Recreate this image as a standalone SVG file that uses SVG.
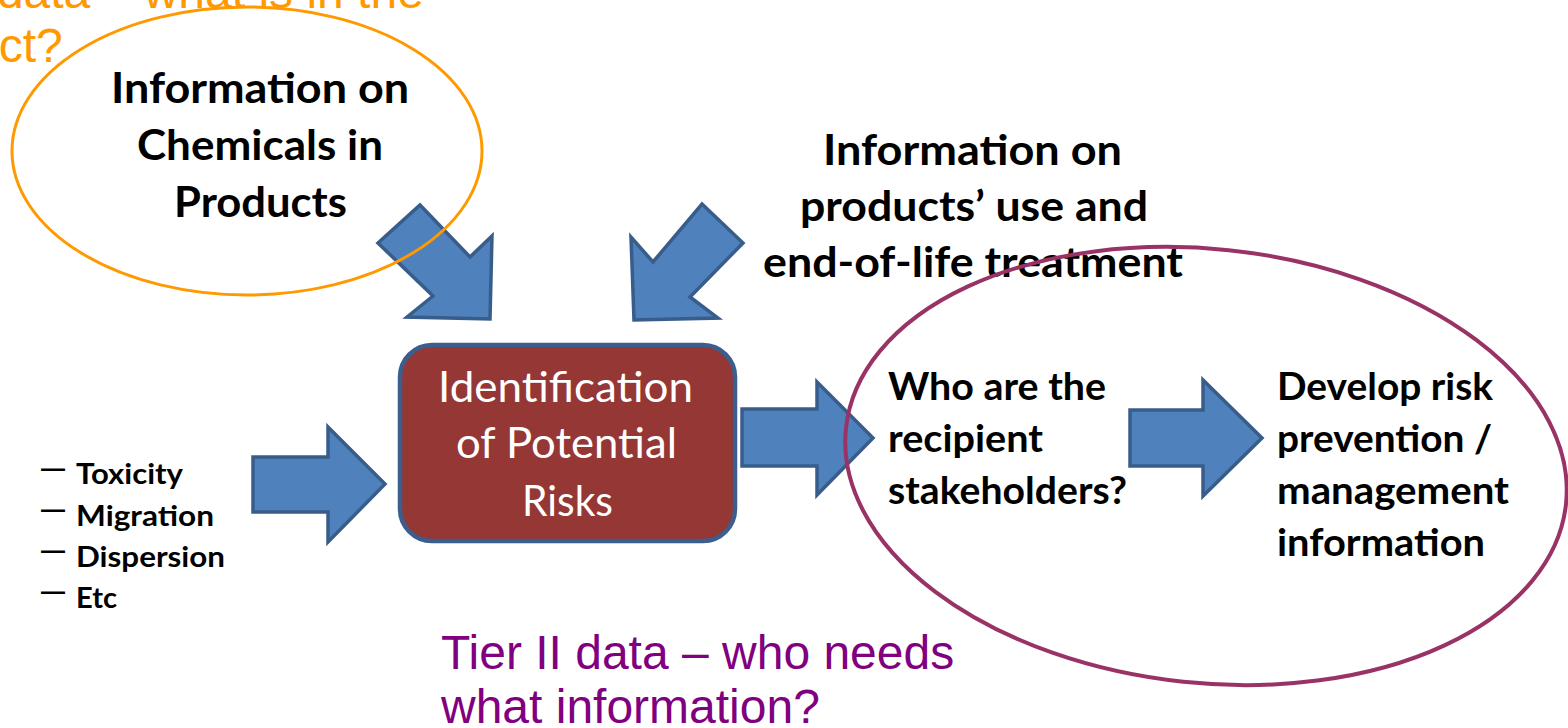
<svg xmlns="http://www.w3.org/2000/svg" width="1568" height="728" viewBox="0 0 1568 728">
<style>
.bg{fill:#ffffff}
.arrow{fill:#4F81BD;stroke:#385D8A;stroke-width:3.5;stroke-linejoin:miter}
.bold{font-family:Lato,"Liberation Sans",sans-serif;font-weight:bold;fill:#000000}
.big{font-size:42.5px}
.mid{font-size:38.5px}
.small{font-size:29px}
.boxtxt{font-family:Lato,"Liberation Sans",sans-serif;font-size:43px;fill:#ffffff}
.arial{font-family:"Liberation Sans",Arial,sans-serif;font-size:48px}
.dash{font-family:"Liberation Sans",Arial,sans-serif;font-size:24px;font-weight:bold;fill:#000000}
</style>
<rect class="bg" x="0" y="0" width="1568" height="728"/>

<g id="tier1-label">
  <text class="arial" fill="#FF9900" x="-124" y="8">Tier I data – what is in the</text>
  <text class="arial" fill="#FF9900" x="-124" y="62">product?</text>
</g>

<g id="chemicals-info">
  <text class="bold big" text-anchor="middle" x="260" y="103" textLength="298" lengthAdjust="spacingAndGlyphs">Information on</text>
  <text class="bold big" text-anchor="middle" x="260" y="160" textLength="246" lengthAdjust="spacingAndGlyphs">Chemicals in</text>
  <text class="bold big" text-anchor="middle" x="260.5" y="217" textLength="173" lengthAdjust="spacingAndGlyphs">Products</text>
</g>

<g id="use-info">
  <text class="bold big" text-anchor="middle" x="972.5" y="165" textLength="299" lengthAdjust="spacingAndGlyphs">Information on</text>
  <text class="bold big" text-anchor="middle" x="974" y="221" textLength="348" lengthAdjust="spacingAndGlyphs">products’ use and</text>
  <text class="bold big" text-anchor="middle" x="973" y="277" textLength="420" lengthAdjust="spacingAndGlyphs">end-of-life treatment</text>
</g>

<g id="properties-list">
  <text class="dash" x="41" y="476">—</text>
  <text class="bold small" x="76" y="484" textLength="107" lengthAdjust="spacingAndGlyphs">Toxicity</text>
  <text class="dash" x="41" y="517">—</text>
  <text class="bold small" x="76" y="526" textLength="138" lengthAdjust="spacingAndGlyphs">Migration</text>
  <text class="dash" x="41" y="558">—</text>
  <text class="bold small" x="76" y="567" textLength="149" lengthAdjust="spacingAndGlyphs">Dispersion</text>
  <text class="dash" x="41" y="599">—</text>
  <text class="bold small" x="76" y="608" textLength="41" lengthAdjust="spacingAndGlyphs">Etc</text>
</g>

<g id="connectors">
  <polygon class="arrow" points="420,205 470,257 492,236 490,319 407,317 433,296 378,243"/>
  <polygon class="arrow" points="702,204 743,243 690,297 718,318 634,320 631,237 653,262"/>
  <polygon class="arrow" points="253,457 328,457 328,427 385,484 328,542 328,512 253,512"/>
  <polygon class="arrow" points="742,409 817,409 817,382 873,438 817,495 817,466 742,466"/>
  <polygon class="arrow" points="1130,410 1203,410 1203,380 1262,438 1203,496 1203,466 1130,466"/>
</g>

<g id="risk-box">
  <rect x="400" y="345" width="335" height="196" rx="32" ry="32" fill="#953735" stroke="#3B5E8C" stroke-width="4.5"/>
  <text class="boxtxt" text-anchor="middle" x="565.5" y="402" textLength="255" lengthAdjust="spacingAndGlyphs">Identification</text>
  <text class="boxtxt" text-anchor="middle" x="566.5" y="458" textLength="221" lengthAdjust="spacingAndGlyphs">of Potential</text>
  <text class="boxtxt" text-anchor="middle" x="567.5" y="516" textLength="91" lengthAdjust="spacingAndGlyphs">Risks</text>
</g>

<g id="stakeholders">
  <text class="bold mid" x="888" y="400" textLength="218" lengthAdjust="spacingAndGlyphs">Who are the</text>
  <text class="bold mid" x="888" y="452" textLength="155" lengthAdjust="spacingAndGlyphs">recipient</text>
  <text class="bold mid" x="888" y="504" textLength="239" lengthAdjust="spacingAndGlyphs">stakeholders?</text>
</g>

<g id="prevention">
  <text class="bold mid" x="1277" y="400" textLength="216" lengthAdjust="spacingAndGlyphs">Develop risk</text>
  <text class="bold mid" x="1277" y="452" textLength="215" lengthAdjust="spacingAndGlyphs">prevention /</text>
  <text class="bold mid" x="1277" y="504" textLength="232" lengthAdjust="spacingAndGlyphs">management</text>
  <text class="bold mid" x="1277" y="556" textLength="208" lengthAdjust="spacingAndGlyphs">information</text>
</g>

<g id="tier2-label">
  <text class="arial" fill="#800080" x="441" y="669">Tier II data – who needs</text>
  <text class="arial" fill="#800080" x="441" y="723">what information?</text>
</g>

<g id="tier1-ellipse">
  <ellipse cx="247" cy="151" rx="235" ry="144" fill="none" stroke="#FF9900" stroke-width="3"/>
</g>

<g id="tier2-ellipse">
  <ellipse cx="1206" cy="466" rx="362" ry="217" transform="rotate(6 1206 466)" fill="none" stroke="#993366" stroke-width="4"/>
</g>
</svg>
